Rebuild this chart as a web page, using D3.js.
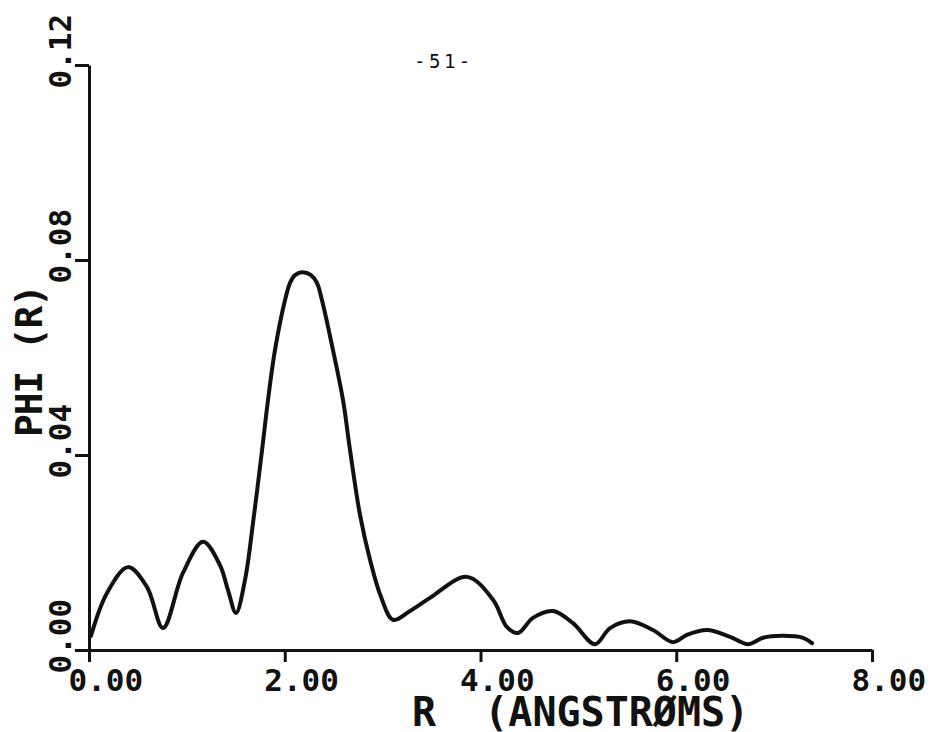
<!DOCTYPE html>
<html>
<head>
<meta charset="utf-8">
<script src="https://cdn.jsdelivr.net/npm/d3@7"></script>
<style>
  html, body { margin: 0; padding: 0; background: #fff; }
  svg { display: block; }
</style>
</head>
<body>
<svg id="chart" width="932" height="732"></svg>
<script>
// ---- data ----
const rValues   = [0.02, 0.184, 0.398, 0.593, 0.756, 0.960, 1.165, 1.338, 1.420, 1.502, 1.594, 1.676, 1.768, 1.829, 1.900, 2.003, 2.054, 2.105, 2.186, 2.268, 2.329, 2.380, 2.493, 2.595, 2.667, 2.769, 2.871, 2.983, 3.106, 3.28, 3.484, 3.862, 4.128, 4.271, 4.383, 4.536, 4.741, 4.945, 5.170, 5.323, 5.527, 5.762, 5.966, 6.109, 6.314, 6.550, 6.733, 6.886, 7.080, 7.295, 7.387];
const phiValues = [0.0029, 0.0117, 0.0170, 0.0129, 0.0045, 0.0158, 0.0222, 0.0174, 0.0123, 0.0076, 0.0144, 0.0261, 0.0410, 0.0513, 0.0615, 0.0718, 0.0753, 0.0769, 0.0775, 0.0769, 0.0753, 0.0718, 0.0615, 0.0513, 0.0410, 0.0277, 0.0185, 0.0109, 0.0062, 0.0080, 0.0107, 0.0150, 0.0103, 0.0047, 0.0035, 0.0066, 0.0080, 0.0055, 0.0012, 0.0045, 0.0059, 0.0041, 0.0016, 0.0031, 0.0041, 0.0027, 0.0012, 0.0025, 0.0029, 0.0025, 0.0014];
const xTicks = [0, 2, 4, 6, 8];
const yTicks = [0, 0.04, 0.08, 0.12];
const xTickLabels = ["0.00", "2.00", "4.00", "6.00", "8.00"];
const yTickLabels = ["0.00", "0.04", "0.08", "0.12"];
const xTitle = "R  (ANGSTRØMS)";
const yTitle = "PHI (R)";
const pageLabel = "-51-";

const svg = d3.select("#chart");
const ink = "#111";
const tickFont = "'DejaVu Sans Mono', 'Liberation Mono', monospace";

const x = d3.scaleLinear().domain([0, 8]).range([89, 872]);
const y = d3.scaleLinear().domain([0, 0.12]).range([650, 65]);

// x axis
const gx = svg.append("g")
  .attr("transform", `translate(0,${y(0)})`)
  .call(d3.axisBottom(x).tickValues(xTicks).tickSize(12).tickSizeOuter(0)
        .tickFormat((d, i) => xTickLabels[i]));
gx.select(".domain").attr("stroke", ink).attr("stroke-width", 3);
gx.selectAll(".tick line").attr("stroke", ink).attr("stroke-width", 3);
gx.selectAll(".tick text")
  .attr("fill", ink).attr("font-family", tickFont).attr("font-weight", "bold")
  .attr("font-size", 31).attr("text-anchor", "start")
  .attr("x", -21).attr("y", 41).attr("dy", null);

// y axis
const gy = svg.append("g")
  .attr("transform", `translate(${x(0)},0)`)
  .call(d3.axisLeft(y).tickValues(yTicks).tickSize(14).tickSizeOuter(0)
        .tickFormat((d, i) => yTickLabels[i]));
gy.select(".domain").attr("stroke", ink).attr("stroke-width", 3);
gy.selectAll(".tick line").attr("stroke", ink).attr("stroke-width", 3);
gy.selectAll(".tick text")
  .attr("fill", ink).attr("font-family", tickFont).attr("font-weight", "bold")
  .attr("font-size", 31).attr("text-anchor", "start")
  .attr("x", null).attr("dy", null)
  .attr("transform", "translate(-18,23) rotate(-90)");

// curve
const pts = rValues.map((r, i) => [r, phiValues[i]]);
const line = d3.line()
  .x(d => x(d[0])).y(d => y(d[1]))
  .curve(d3.curveCatmullRom.alpha(0.5));
svg.append("path")
  .datum(pts)
  .attr("d", line)
  .attr("fill", "none")
  .attr("stroke", ink)
  .attr("stroke-width", 4)
  .attr("stroke-linejoin", "round")
  .attr("stroke-linecap", "round");

// axis titles
svg.append("text")
  .attr("x", 412).attr("y", 726)
  .attr("font-family", tickFont).attr("font-weight", "bold")
  .attr("font-size", 40).attr("fill", ink)
  .style("white-space", "pre")
  .text(xTitle);

svg.append("text")
  .attr("transform", "translate(42,437) rotate(-90)")
  .attr("font-family", tickFont).attr("font-weight", "bold")
  .attr("font-size", 38).attr("letter-spacing", -1.2).attr("fill", ink)
  .style("white-space", "pre")
  .text(yTitle);

// page number
svg.append("text")
  .attr("x", 414).attr("y", 68)
  .attr("font-family", "'DejaVu Sans Mono', 'Liberation Mono', monospace")
  .attr("font-size", 19).attr("letter-spacing", 3.5).attr("fill", ink)
  .text(pageLabel);
</script>
</body>
</html>
